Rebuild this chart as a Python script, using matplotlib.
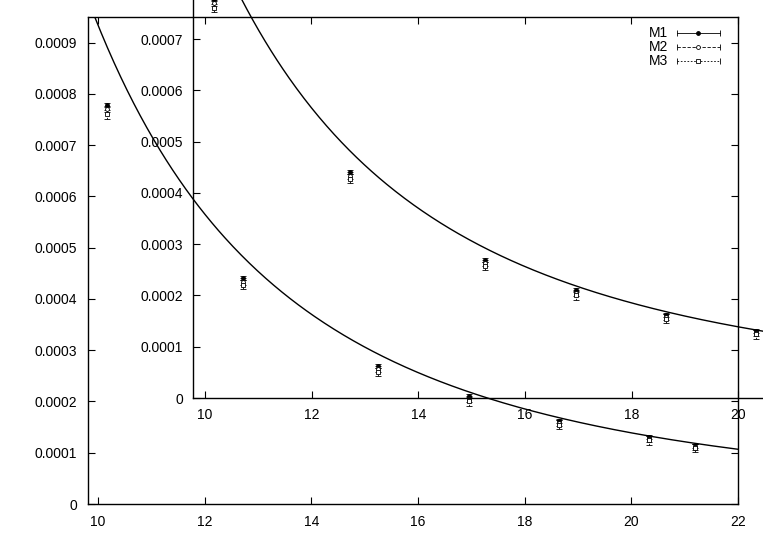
import numpy as np
import matplotlib
matplotlib.use("Agg")
from matplotlib import pyplot as plt
from matplotlib.ticker import FuncFormatter, MultipleLocator

plt.rcParams['font.family'] = ['Liberation Sans', 'DejaVu Sans']
plt.rcParams['font.size'] = 10

# measured points (same data in main plot and in inset)
x = [10.16, 12.71, 15.25, 16.95, 18.65, 20.34, 21.2]
m1 = [0.000778, 0.000441, 0.000270, 0.000210, 0.000162, 0.000130, 0.000113]
m2 = [0.000770, 0.000434, 0.000264, 0.000205, 0.000158, 0.000127, 0.000111]
m3 = [0.000760, 0.000428, 0.000258, 0.000200, 0.000155, 0.000124, 0.000109]
e1 = [0.000004] * 7
e2 = [0.000006] * 7
e3 = [0.000008] * 7

# fit f(x) = a * x**(-p)
fit_a = 0.525
fit_p = 2.75

labels = ['M1', 'M2', 'M3']
styles = [('-', 'o', 'black'), ((0, (4, 2)), 'o', 'white'), ((0, (2, 2)), 's', 'white')]


def fmt(v, _):
    return '0' if abs(v) < 1e-12 else f'{v:.4f}'


def draw(ax, xmin, xmax):
    xs = np.linspace(xmin, xmax, 400)
    ax.plot(xs, fit_a * xs ** (-fit_p), color='black', lw=1.0)
    for y, e, (ls, mk, fc) in zip([m1, m2, m3], [e1, e2, e3], styles):
        _, _, bars = ax.errorbar(x, y, yerr=e, fmt=mk, ms=2.8, mfc=fc, mec='black',
                                 mew=0.6, ecolor='black', elinewidth=0.6,
                                 capsize=2.2, capthick=0.6)
        for b in bars:
            b.set_linestyle(ls)
    ax.yaxis.set_major_formatter(FuncFormatter(fmt))
    ax.xaxis.set_major_locator(MultipleLocator(2))
    ax.yaxis.set_major_locator(MultipleLocator(0.0001))


fig = plt.figure(figsize=(7.63, 5.34), dpi=100)

ax = fig.add_axes([88 / 763, 30 / 534, 650 / 763, 487 / 534])
draw(ax, 9.81, 22)
ax.set_xlim(9.81, 22)
ax.set_ylim(0, 0.00095)
ax.tick_params(direction='in', length=5, width=0.8, top=True, right=True, pad=8)
for s in ax.spines.values():
    s.set_linewidth(1.0)

# legend drawn gnuplot style
for i, (lab, (ls, mk, fc)) in enumerate(zip(labels, styles)):
    yy = 0.967 - i * 0.029
    ax.text(0.892, yy, lab, transform=ax.transAxes, ha='right', va='center', fontsize=10)
    ax.plot([0.906, 0.972], [yy, yy], transform=ax.transAxes, color='black', lw=0.6, ls=ls)
    ax.plot([0.906, 0.972], [yy, yy], transform=ax.transAxes, ls='none', marker='|',
            ms=5, mew=0.6, color='black')
    ax.plot([0.939], [yy], transform=ax.transAxes, marker=mk, ms=2.8, mfc=fc,
            mec='black', mew=0.6, ls='none')

ins = fig.add_axes([193 / 763, 136 / 534, 598.7 / 763, 405 / 534])
ins.patch.set_alpha(0)
draw(ins, 9.775, 21)
ins.set_xlim(9.775, 21)
ins.set_ylim(0, 0.00079)
ins.tick_params(direction='in', length=5, width=0.8, pad=7)
ins.spines['top'].set_visible(False)
ins.spines['right'].set_visible(False)
for s in ins.spines.values():
    s.set_linewidth(1.0)

fig.savefig('out.png', dpi=100)
